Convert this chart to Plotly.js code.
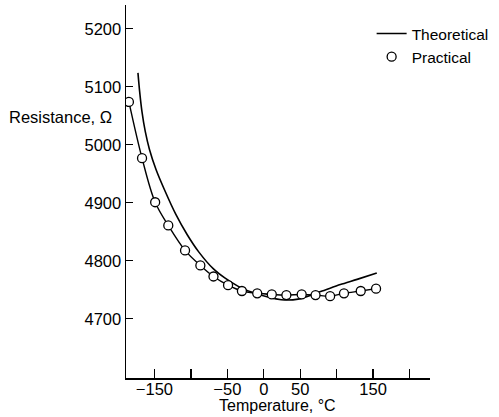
<!DOCTYPE html>
<html>
<head>
<meta charset="utf-8">
<script src="https://cdn.plot.ly/plotly-3.0.1.min.js"></script>
<style>html,body{margin:0;padding:0;background:#fff;}#chart{width:499px;height:417px;}</style>
</head>
<body>
<div id="chart"></div>
<script>
// Practical (measured) points
var practicalTemp = [-185, -167, -149, -131, -108, -87, -69, -49, -30, -9, 11, 31, 52, 71, 91, 110, 133, 154];
var practicalRes  = [5074, 4977, 4901, 4861, 4818, 4792, 4773, 4758, 4748, 4744, 4742, 4741, 4742, 4741, 4739, 4744, 4748, 4752];

// Theoretical curve
var theoryTemp = [-172.6, -170.3, -167.2, -162.6, -156.8, -147.7, -136.4, -120.6, -105, -89, -69, -53, -35, -12, 24, 47, 78, 105, 128, 155];
var theoryRes  = [5124, 5092, 5058, 5023, 4992, 4957, 4923, 4880, 4845, 4815, 4786, 4770, 4756, 4744, 4733, 4734, 4747, 4759, 4768, 4779];

var xTickVals = [-150, -100, -50, 0, 50, 100, 150, 200];
var xTickText = ['\u2212150', '', '\u221250', '0', '50', '', '150', ''];
var yTickVals = [4700, 4800, 4900, 5000, 5100, 5200];
var yTickText = ['4700', '4800', '4900', '5000', '5100', '5200'];

var FONT = 'Liberation Sans, Arial, sans-serif';
var FS = 16.5;

var traces = [
  {
    x: theoryTemp, y: theoryRes, name: 'Theoretical', type: 'scatter', mode: 'lines',
    line: {color: '#000', width: 1.6, shape: 'spline', smoothing: 0.8}
  },
  {
    x: practicalTemp, y: practicalRes, name: 'Practical', type: 'scatter', mode: 'lines',
    showlegend: false,
    line: {color: '#000', width: 1.4, shape: 'spline', smoothing: 1}
  },
  {
    x: practicalTemp, y: practicalRes, name: 'Practical', type: 'scatter', mode: 'markers',
    marker: {symbol: 'circle', size: 9, color: '#fff', line: {color: '#000', width: 1.3}}
  }
];

var layout = {
  width: 499, height: 417,
  margin: {l: 126, r: 65, t: 5, b: 38.5},
  paper_bgcolor: '#fff', plot_bgcolor: '#fff',
  font: {family: FONT, size: FS, color: '#000'},
  showlegend: true,
  legend: {x: 0.808, y: 0.968, xanchor: 'left', yanchor: 'top', bgcolor: 'rgba(0,0,0,0)',
           font: {family: FONT, size: 15.5, color: '#000'}, itemwidth: 30, tracegroupgap: 0},
  xaxis: {
    range: [-189, 228], showgrid: false, zeroline: false,
    showline: true, linecolor: '#000', linewidth: 1.5,
    ticks: 'inside', ticklen: 9, tickwidth: 1.3, tickcolor: '#000',
    tickmode: 'array', tickvals: xTickVals, ticktext: xTickText,
    ticklabelstandoff: -4,
    tickfont: {family: FONT, size: FS, color: '#000'}
  },
  yaxis: {
    range: [4598, 5241], showgrid: false, zeroline: false,
    showline: true, linecolor: '#000', linewidth: 1.5,
    ticks: 'inside', ticklen: 7, tickwidth: 1.3, tickcolor: '#000',
    tickmode: 'array', tickvals: yTickVals, ticktext: yTickText,
    tickfont: {family: FONT, size: FS, color: '#000'}
  },
  annotations: [
    {text: 'Resistance, \u03A9', xref: 'paper', yref: 'paper', x: -0.39, y: 0.700,
     xanchor: 'left', yanchor: 'middle', showarrow: false,
     font: {family: FONT, size: FS, color: '#000'}},
    {text: 'Temperature, \u00B0C', xref: 'paper', yref: 'paper', x: 0.497, y: -0.1031,
     xanchor: 'center', yanchor: 'bottom', showarrow: false,
     font: {family: FONT, size: 16, color: '#000'}}
  ]
};

Plotly.newPlot('chart', traces, layout, {staticPlot: true, displayModeBar: false});
</script>
</body>
</html>
